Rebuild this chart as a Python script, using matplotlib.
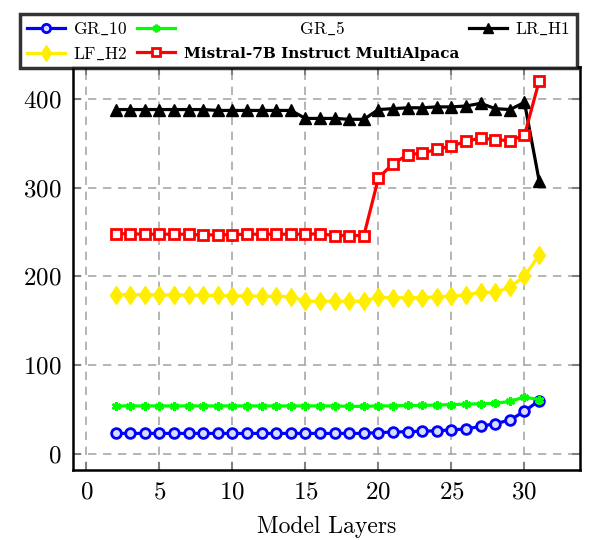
import matplotlib
matplotlib.use("Agg")
import matplotlib.pyplot as plt

plt.rcParams['font.family'] = ['cmr10', 'DejaVu Serif']
plt.rcParams['mathtext.fontset'] = 'cm'
plt.rcParams['axes.formatter.use_mathtext'] = True

layers = list(range(2, 32))

gr_10 = [23, 23, 23, 23, 23, 23, 23, 23, 23, 23, 23, 23, 23, 23, 23, 23, 23, 23,
         24, 24.5, 25, 25.5, 26, 27, 28, 31, 34, 38, 48, 60]
gr_5 = [54, 54, 54, 54, 54, 54, 54, 54, 54, 54, 54, 54, 54, 54, 54, 54, 53.5, 53.5,
        54, 54, 54.5, 54.5, 55, 55.5, 56, 56.5, 57, 59, 64, 61]
lr_h1 = [388, 388, 388, 388, 388, 388, 388, 387, 387, 387, 387, 387, 387,
         378, 378, 378, 377, 377, 388, 389, 390, 390, 391, 391, 392, 395,
         389, 388, 396, 308]
lf_h2 = [179.5, 179.5, 179.5, 179, 179, 179, 178.5, 178.5, 178, 178, 177.5, 177.5,
         177, 172, 172, 172, 172, 172, 176.5, 176, 176, 176, 177, 177.5, 179,
         182, 182, 188, 200, 224]
mistral = [248, 248, 247.5, 247.5, 247.5, 247.5, 246.5, 247, 247, 247.5, 247.5, 247.5,
           247.5, 247.5, 248, 246, 246, 246, 311, 327, 337, 339, 343, 347, 352,
           356, 354, 353, 359, 420]

labels = [r'$\mathrm{GR\_10}$', r'$\mathrm{GR\_5}$', r'$\mathrm{LR\_H1}$',
          r'$\mathrm{LF\_H2}$', 'Mistral-7B Instruct MultiAlpaca']
xticks = [0, 5, 10, 15, 20, 25, 30]
yticks = [0, 100, 200, 300, 400]

fig = plt.figure(figsize=(5.9, 5.4), dpi=100)
ax = fig.add_axes([0.123, 0.130, 0.860, 0.746])

lw = 2.3
h_gr10, = ax.plot(layers, gr_10, color='#0000ff', lw=lw, marker='o', ms=7,
                  mfc='#d8dcff', mec='#0000ff', mew=2.0)
h_gr5, = ax.plot(layers, gr_5, color='#00ff00', lw=lw, marker=(6, 2, 0), ms=6.5,
                 mec='#00ff00', mew=2.0)
h_lr, = ax.plot(layers, lr_h1, color='black', lw=lw, marker='^', ms=8.5,
                mfc='black', mec='black')
h_lf, = ax.plot(layers, lf_h2, color='#ffee00', lw=lw, marker='d', ms=9.5,
                mfc='#ffee00', mec='#ffee00')
h_mi, = ax.plot(layers, mistral, color='#ff0000', lw=lw, marker='s', ms=7.5,
                mfc='white', mec='#ff0000', mew=2.0)

ax.set_xlim(-0.95, 33.8)
ax.set_ylim(-18, 436)
ax.set_xticks(xticks)
ax.set_yticks(yticks)
ax.tick_params(axis='both', which='major', labelsize=18, direction='in',
               length=6, width=1.5, color='#808080', top=True, right=True, pad=8)
ax.grid(True, color='#a8a8a8', linestyle=(0, (5, 4)), lw=1.2)
for s in ax.spines.values():
    s.set_linewidth(1.8)
ax.set_xlabel('Model Layers', fontsize=17, labelpad=9)

handles = [h_gr10, h_lf, h_gr5, h_mi, h_lr]
labs = [labels[0], labels[3], '                    ' + labels[1], labels[4], labels[2]]
leg = fig.legend(handles, labs, ncol=3, loc='upper left',
                 bbox_to_anchor=(0.020, 0.991, 0.972, 0.0), mode='expand',
                 fontsize=12.5, frameon=True, fancybox=False, edgecolor='black',
                 handlelength=2.2, handletextpad=0.5, columnspacing=0.8,
                 borderpad=0.35, labelspacing=0.5, markerscale=0.85)
leg.get_frame().set_linewidth(2.5)
leg.set_zorder(10)
for t in leg.get_texts():
    if t.get_text().startswith('Mistral'):
        t.set_fontfamily('DejaVu Serif')
        t.set_fontweight('bold')
        t.set_fontsize(11)

fig.savefig('out.png', dpi=100)
